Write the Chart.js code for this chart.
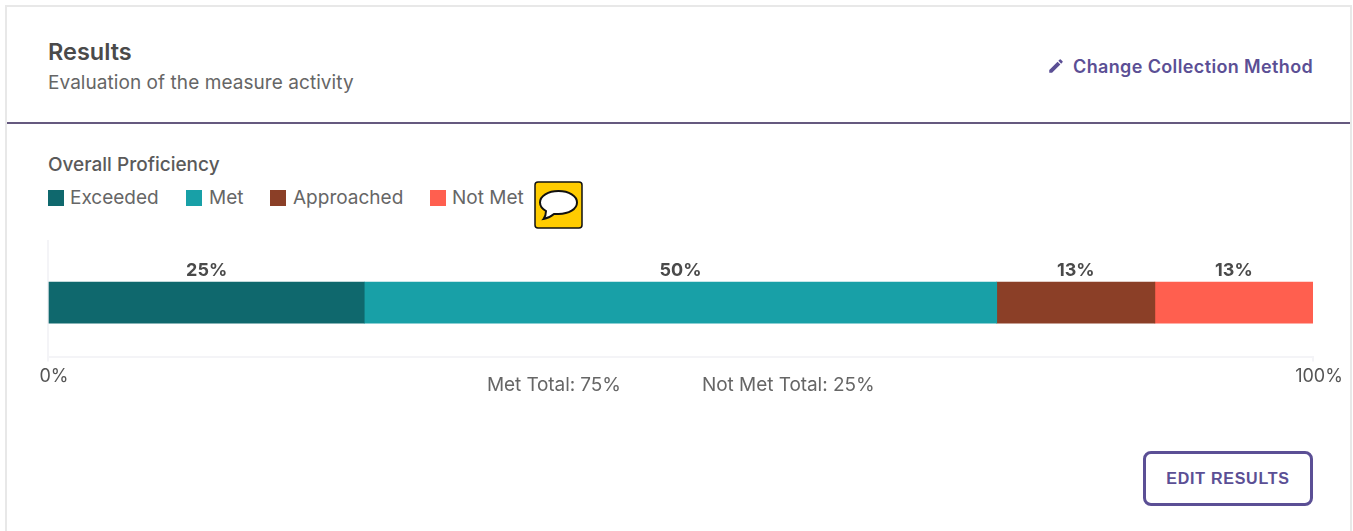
<!DOCTYPE html>
<html>
<head>
<meta charset="utf-8">
<title>Results</title>
<script src="https://cdn.jsdelivr.net/npm/chart.js@4"></script>
<style>
  html, body { margin: 0; background: #fff; overflow: hidden; }
  body { width: 1353px; height: 531px; position: relative; font-family: Inter, sans-serif; color: #555; }
  .abs { position: absolute; white-space: nowrap; }
  #card { left: 5px; top: 5px; width: 1343px; height: 540px; border: 2px solid #e8e8e8; }
  #rule { left: 7px; top: 122px; width: 1343px; height: 2px; background: #65597f; }
  #title { left: 48px; top: 38px; font-size: 23.5px; font-weight: 600; color: #4a4a4a; line-height: 28px; }
  #subtitle { left: 48px; top: 71px; font-size: 19px; letter-spacing: 0.06px; line-height: 24px; color: #666; }
  #change { left: 1073px; top: 55px; font-size: 18px; font-weight: 600; letter-spacing: 0.37px; line-height: 24px; color: #5b4f95; }
  #pencil { left: 1047px; top: 57px; }
  #heading { left: 48px; top: 153px; font-size: 19px; font-weight: 450; line-height: 24px; color: #5a5a5a; }
  #legend span { position: absolute; top: 186px; font-size: 19px; line-height: 24px; color: #666; white-space: nowrap; }
  #legend i { position: absolute; top: 190px; width: 16px; height: 16px; }
  #bubble { left: 534px; top: 181px; }
  #chartBox { left: 0; top: 230px; width: 1353px; height: 161px; }
  #metTotal { left: 487px; top: 373px; font-size: 19px; letter-spacing: -0.1px; line-height: 24px; color: #666; }
  #notMetTotal { left: 702px; top: 373px; font-size: 19px; letter-spacing: -0.05px; line-height: 24px; color: #666; }
  #edit { left: 1143px; top: 451px; width: 164px; height: 49px; border: 3px solid #5b4f95; border-radius: 8px; background: #fff;
          font-family: "Liberation Sans", Arial, sans-serif; font-size: 16px; font-weight: 700; letter-spacing: 0.75px; color: #5b4f95; text-align: center; line-height: 50px; }
</style>
</head>
<body>
<div class="abs" id="card"></div>
<div class="abs" id="rule"></div>
<div class="abs" id="title">Results</div>
<div class="abs" id="subtitle">Evaluation of the measure activity</div>
<svg class="abs" id="pencil" width="18" height="18" viewBox="0 0 24 24"><path fill="#5b4f95" d="M3 17.25V21h3.75L17.81 9.94l-3.75-3.75L3 17.25zM20.71 7.04a1 1 0 0 0 0-1.41l-2.34-2.34a1 1 0 0 0-1.41 0l-1.83 1.83 3.75 3.75 1.83-1.83z"/></svg>
<div class="abs" id="change">Change Collection Method</div>
<div class="abs" id="heading">Overall Proficiency</div>
<div id="legend"></div>
<svg class="abs" id="bubble" width="49" height="48" viewBox="0 0 49 48">
  <rect x="1" y="1" width="47" height="46" rx="3" fill="#ffcc00" stroke="#111" stroke-width="1.5"/>
  <path d="M24.500 10C14 10 6 15 6 21.500C6 25 8.500 28 12 30C12 33 11 36 9.500 38C13 37.500 17 35.500 20 33C21.500 33 23 33 24.500 33C35 33 43 28 43 21.500C43 15 35 10 24.500 10Z" fill="#fff" stroke="#111" stroke-width="2"/>
</svg>
<div class="abs" id="chartBox"><canvas id="resultsChart"></canvas></div>
<div class="abs" id="metTotal">Met Total: 75%</div>
<div class="abs" id="notMetTotal">Not Met Total: 25%</div>
<div class="abs" id="edit">EDIT RESULTS</div>

<script>
const categories = ['Overall Proficiency'];
const seriesNames = ['Exceeded', 'Met', 'Approached', 'Not Met'];
const seriesValues = [25, 50, 12.5, 12.5];
const seriesLabels = ['25%', '50%', '13%', '13%'];
const seriesColors = ['#0f686d', '#18a0a7', '#8b3f27', '#ff5f4f'];
const tickValues = [0, 100];

// legend is plain html so it sits where the page had it
const legendSwatchX = [48, 186, 270, 430];
const legendTextX = [70, 209, 293, 452];
const legend = document.getElementById('legend');
seriesNames.forEach((name, i) => {
  const swatch = document.createElement('i');
  swatch.style.left = legendSwatchX[i] + 'px';
  swatch.style.background = seriesColors[i];
  const text = document.createElement('span');
  text.style.left = legendTextX[i] + 'px';
  text.textContent = name;
  legend.append(swatch, text);
});

// percentages above each segment
const pluginSegmentLabels = {
  id: 'segmentLabels',
  afterDatasetsDraw(chart) {
    const { ctx } = chart;
    ctx.save();
    ctx.font = '700 18px Inter';
    ctx.fillStyle = '#4a4a4a';
    ctx.textAlign = 'center';
    ctx.textBaseline = 'bottom';
    chart.data.datasets.forEach((dataset, i) => {
      const bar = chart.getDatasetMeta(i).data[0];
      ctx.fillText(seriesLabels[i], (bar.base + bar.x) / 2, bar.y - bar.height / 2 - 3);
    });
    ctx.restore();
  },
};

// the left axis line runs a bit above the plot area
const pluginAxisLine = {
  id: 'axisLine',
  beforeDatasetsDraw(chart) {
    const { ctx, chartArea } = chart;
    ctx.save();
    ctx.strokeStyle = '#f4f4f7';
    ctx.lineWidth = 2;
    ctx.beginPath();
    ctx.moveTo(chartArea.left, 10);
    ctx.lineTo(chartArea.left, chartArea.top);
    ctx.stroke();
    ctx.restore();
  },
};

new Chart(document.getElementById('resultsChart').getContext('2d'), {
  type: 'bar',
  data: {
    labels: categories,
    datasets: seriesNames.map((name, i) => ({
      label: name,
      data: [seriesValues[i]],
      backgroundColor: seriesColors[i],
      barThickness: 41,
    })),
  },
  options: {
    indexAxis: 'y',
    responsive: true,
    maintainAspectRatio: false,
    animation: false,
    layout: { padding: { left: 48, right: 40, top: 18, bottom: 0 } },
    plugins: { legend: { display: false }, tooltip: { enabled: false } },
    scales: {
      x: {
        stacked: true,
        min: 0,
        max: 100,
        afterBuildTicks(axis) {
          axis.ticks = tickValues.map((value) => ({ value }));
        },
        grid: {
          color: (ctx) => (ctx.tick && ctx.tick.value === 0 ? '#f4f4f7' : 'transparent'),
          tickColor: '#f4f4f7',
          lineWidth: 2,
          tickLength: 4,
        },
        border: { color: '#f4f4f7', width: 2 },
        ticks: {
          maxRotation: 0,
          labelOffset: 6,
          padding: 4,
          color: '#555',
          font: { family: 'Inter', size: 18 },
          callback: (value) => value + '%',
        },
      },
      y: { stacked: true, display: false },
    },
  },
  plugins: [pluginAxisLine, pluginSegmentLabels],
});
</script>
</body>
</html>
